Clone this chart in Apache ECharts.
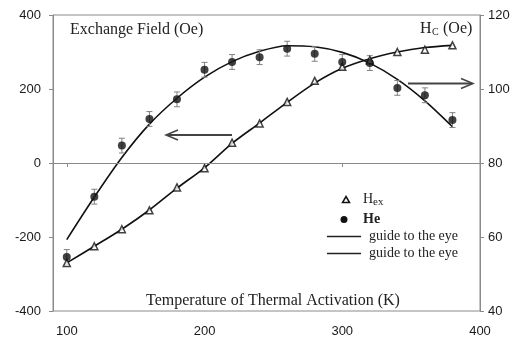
<!DOCTYPE html>
<html>
<head>
<meta charset="utf-8">
<script src="https://cdn.jsdelivr.net/npm/echarts@6/dist/echarts.min.js"></script>
<style>
  html, body { margin: 0; padding: 0; background: #fff; }
  #chart { width: 519px; height: 341px; }
</style>
</head>
<body>
<div id="chart"></div>
<script>
// Annealing temperatures (K)
const temps = [100, 120, 140, 160, 180, 200, 220, 240, 260, 280, 300, 320, 340, 360, 380];
// Exchange field H_ex (Oe), left axis
const hexValues = [-270, -225, -179, -128, -66, -14, 55, 107, 165, 222, 260, 278, 300, 306, 318];
// Coercivity Hc (Oe), right axis
const hcValues = [54.6, 70.9, 84.7, 91.9, 97.2, 105.2, 107.3, 108.6, 110.9, 109.5, 107.3, 107.0, 100.3, 98.3, 91.6];
const hcErrors = [2, 2, 2, 2, 2, 2, 2, 2, 2, 2, 2, 2, 2, 2, 2];
// Guide-to-the-eye curves
const hexGuide = [-270, -225, -179, -127, -68, -13, 53, 108, 164, 216, 256, 282, 300, 312, 318];
const hcGuide = [59.3, 70.8, 81.5, 90.5, 97.5, 103.2, 107.4, 110.2, 111.7, 111.4, 109.9, 107.0, 102.6, 96.8, 89.8];
// Axis ticks
const xTicks = [100, 200, 300, 400];

const axisGray = '#8a8a8a';
const sans = 'Arial, Helvetica, sans-serif';
const serif = '"Liberation Serif", "Times New Roman", serif';

const pairs = (xs, ys) => xs.map((x, i) => [x, ys[i]]);

const chart = echarts.init(document.getElementById('chart'), null, { renderer: 'canvas' });

const tickLabel = { color: '#1a1a1a', fontFamily: sans, fontSize: 13 };

const option = {
  animation: false,
  backgroundColor: '#fff',
  grid: { left: 53, right: 39, top: 15, bottom: 30, show: true, borderColor: axisGray, borderWidth: 1, backgroundColor: 'transparent' },
  xAxis: {
    type: 'value', min: 90, max: 400,
    axisLine: { show: true, lineStyle: { color: axisGray, width: 1 } },
    axisTick: { show: true, length: 4, inside: false, customValues: xTicks, lineStyle: { color: axisGray } },
    axisLabel: Object.assign({ customValues: xTicks, margin: 14 }, tickLabel),
    splitLine: { show: false }
  },
  yAxis: [
    {
      type: 'value', min: -400, max: 400, interval: 200, position: 'left',
      axisLine: { show: true, lineStyle: { color: axisGray, width: 1 } },
      axisTick: { show: true, length: 4, lineStyle: { color: axisGray } },
      axisLabel: Object.assign({ margin: 12 }, tickLabel),
      splitLine: { show: false }
    },
    {
      type: 'value', min: 40, max: 120, interval: 20, position: 'right',
      axisLine: { show: true, lineStyle: { color: axisGray, width: 1 } },
      axisTick: { show: true, length: 4, lineStyle: { color: axisGray } },
      axisLabel: Object.assign({ margin: 8 }, tickLabel),
      splitLine: { show: false }
    }
  ],
  series: [
    {
      name: 'guide Hex', type: 'line', yAxisIndex: 0, smooth: 0.3, showSymbol: false, silent: true,
      data: pairs(temps, hexGuide),
      lineStyle: { color: '#111', width: 1.6 },
      markLine: {
        silent: true, symbol: 'none', label: { show: false },
        lineStyle: { color: axisGray, width: 1, type: 'solid' },
        data: [{ yAxis: 0 }]
      },
      z: 2
    },
    {
      name: 'guide Hc', type: 'line', yAxisIndex: 1, smooth: 0.3, showSymbol: false, silent: true,
      data: pairs(temps, hcGuide),
      lineStyle: { color: '#111', width: 1.6 },
      z: 2
    },
    {
      name: 'Hc error', type: 'custom', yAxisIndex: 1, silent: true,
      data: temps.map((t, i) => [t, hcValues[i] - hcErrors[i], hcValues[i] + hcErrors[i]]),
      renderItem: function (params, api) {
        const lo = api.coord([api.value(0), api.value(1)]);
        const hi = api.coord([api.value(0), api.value(2)]);
        const w = 3;
        const style = { stroke: '#808080', lineWidth: 1 };
        return {
          type: 'group',
          children: [
            { type: 'line', shape: { x1: lo[0], y1: lo[1], x2: hi[0], y2: hi[1] }, style: style },
            { type: 'line', shape: { x1: lo[0] - w, y1: lo[1], x2: lo[0] + w, y2: lo[1] }, style: style },
            { type: 'line', shape: { x1: hi[0] - w, y1: hi[1], x2: hi[0] + w, y2: hi[1] }, style: style }
          ]
        };
      },
      z: 3
    },
    {
      name: 'Hex', type: 'scatter', yAxisIndex: 0, symbol: 'triangle', symbolSize: 7,
      data: pairs(temps, hexValues),
      itemStyle: { color: '#fff', borderColor: '#111', borderWidth: 1.5 },
      z: 4
    },
    {
      name: 'He', type: 'scatter', yAxisIndex: 1, symbol: 'circle', symbolSize: 8,
      data: pairs(temps, hcValues),
      itemStyle: { color: '#111' },
      z: 5
    }
  ],
  graphic: [
    // Axis titles written inside the frame
    { type: 'text', left: 70, top: 22, style: { text: 'Exchange Field (Oe)', font: '16px ' + serif, fill: '#222' } },
    { type: 'text', x: 420, y: 21, style: { text: 'H', font: '16px ' + serif, fill: '#222' } },
    { type: 'text', x: 432, y: 27, style: { text: 'C', font: '10px ' + serif, fill: '#222' } },
    { type: 'text', x: 443, y: 21, style: { text: '(Oe)', font: '16px ' + serif, fill: '#222' } },
    { type: 'text', x: 273, y: 301, style: { text: 'Temperature of Thermal Activation (K)', font: '16px ' + serif, fill: '#222', align: 'center', verticalAlign: 'middle' } },
    // Direction arrows
    { type: 'line', shape: { x1: 232, y1: 135, x2: 167, y2: 135 }, style: { stroke: '#444', lineWidth: 1.8 } },
    { type: 'polyline', shape: { points: [[178, 130], [166, 135], [178, 140]] }, style: { stroke: '#444', lineWidth: 1.5, fill: null } },
    { type: 'line', shape: { x1: 408, y1: 83.5, x2: 472, y2: 83.5 }, style: { stroke: '#444', lineWidth: 1.8 } },
    { type: 'polyline', shape: { points: [[461, 78.5], [473, 83.5], [461, 88.5]] }, style: { stroke: '#444', lineWidth: 1.5, fill: null } },
    // Legend
    { type: 'polygon', shape: { points: [[346, 196.5], [349.5, 202.5], [342.5, 202.5]] }, style: { fill: '#fff', stroke: '#111', lineWidth: 1.5 } },
    { type: 'text', x: 363, y: 192, style: { text: 'H', font: '14px ' + serif, fill: '#222' } },
    { type: 'text', x: 373, y: 197, style: { text: 'ex', font: '11px ' + serif, fill: '#222' } },
    { type: 'circle', shape: { cx: 344, cy: 219.5, r: 3.5 }, style: { fill: '#111' } },
    { type: 'text', x: 363, y: 212, style: { text: 'He', font: 'bold 14px ' + serif, fill: '#222' } },
    { type: 'line', shape: { x1: 327, y1: 236.5, x2: 361, y2: 236.5 }, style: { stroke: '#222', lineWidth: 1.5 } },
    { type: 'text', x: 369, y: 229, style: { text: 'guide to the eye', font: '14px ' + serif, fill: '#222' } },
    { type: 'line', shape: { x1: 327, y1: 253.5, x2: 361, y2: 253.5 }, style: { stroke: '#222', lineWidth: 1.5 } },
    { type: 'text', x: 369, y: 246, style: { text: 'guide to the eye', font: '14px ' + serif, fill: '#222' } }
  ]
};

chart.setOption(option);
</script>
</body>
</html>
